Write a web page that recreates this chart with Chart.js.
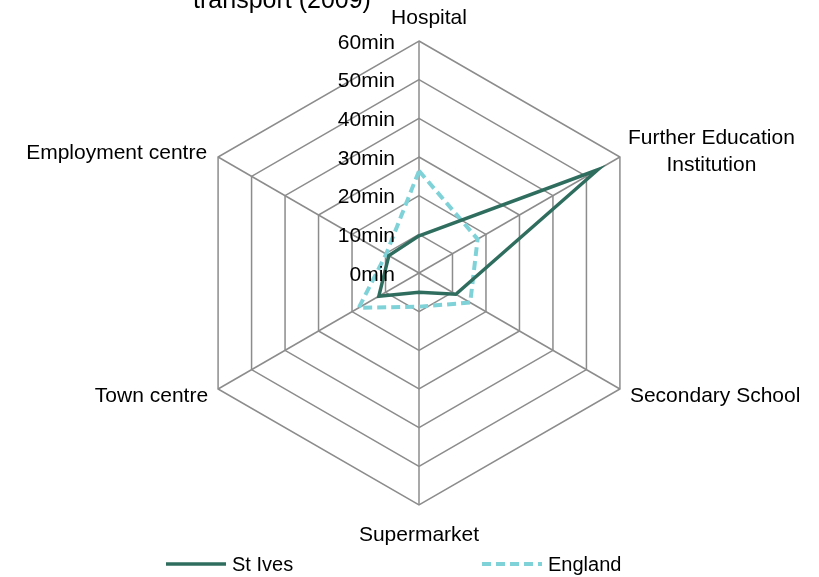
<!DOCTYPE html>
<html>
<head>
<meta charset="utf-8">
<script src="https://cdn.jsdelivr.net/npm/chart.js@4"></script>
<style>
html,body{margin:0;padding:0;background:#fff;}
canvas{display:block;}
</style>
</head>
<body>
<canvas id="c" width="819" height="577"></canvas>
<script>
const categories = ['Hospital', ['Further Education', 'Institution'], 'Secondary School', 'Supermarket', 'Town centre', 'Employment centre'];
const stIves = [9.6, 53.4, 11, 5, 12, 9];
const england = [26.4, 17.5, 15.3, 8.7, 18, 9.8];
const tickValues = [0, 10, 20, 30, 40, 50, 60];
const tickLabels = ['0min', '10min', '20min', '30min', '40min', '50min', '60min'];
const seriesNames = ['St Ives', 'England'];
const titleText = 'transport (2009)';

const FONT = "'Liberation Sans', Arial, sans-serif";
const GREEN = '#2f6e5f';
const CYAN = '#7fd3d8';
const GRID = '#8c8c8c';

const overlay = {
  id: 'overlay',
  afterDraw(chart) {
    const ctx = chart.ctx;
    const s = chart.scales.r;
    ctx.save();
    ctx.fillStyle = '#000';
    // title
    ctx.font = '25px ' + FONT;
    ctx.textAlign = 'center';
    ctx.textBaseline = 'alphabetic';
    ctx.fillText(titleText, 282, 8);
    // tick labels
    ctx.font = '21px ' + FONT;
    ctx.textAlign = 'right';
    ctx.textBaseline = 'middle';
    tickValues.forEach((v, i) => {
      const d = s.getDistanceFromCenterForValue(v);
      ctx.fillText(tickLabels[i], s.xCenter - 24, s.yCenter - d + 2);
    });
    // point labels
    const R = s.drawingArea;
    categories.forEach((lab, i) => {
      const p = s.getPointPosition(i, R);
      const lines = Array.isArray(lab) ? lab : [lab];
      ctx.textBaseline = 'middle';
      if (i === 0) {
        ctx.textAlign = 'center';
        ctx.fillText(lines[0], p.x + 10, p.y - 23);
      } else if (i === 1) {
        const w = Math.max(...lines.map(l => ctx.measureText(l).width));
        const cx = p.x + 8 + w / 2;
        ctx.textAlign = 'center';
        lines.forEach((l, k) => ctx.fillText(l, cx, p.y - 19 + k * 27));
      } else if (i === 2) {
        ctx.textAlign = 'left';
        ctx.fillText(lines[0], p.x + 10, p.y + 7);
      } else if (i === 3) {
        ctx.textAlign = 'center';
        ctx.fillText(lines[0], p.x, p.y + 30);
      } else if (i === 4) {
        ctx.textAlign = 'right';
        ctx.fillText(lines[0], p.x - 10, p.y + 7);
      } else {
        ctx.textAlign = 'right';
        ctx.fillText(lines[0], p.x - 11, p.y - 4);
      }
    });
    // legend
    const ly = 564;
    const items = [
      {x: 166, color: GREEN, dash: [], w: 3.5},
      {x: 482, color: CYAN, dash: [9, 5], w: 4}
    ];
    items.forEach((it, k) => {
      ctx.beginPath();
      ctx.setLineDash(it.dash);
      ctx.strokeStyle = it.color;
      ctx.lineWidth = it.w;
      ctx.moveTo(it.x, ly);
      ctx.lineTo(it.x + 60, ly);
      ctx.stroke();
      ctx.setLineDash([]);
      ctx.font = '20px ' + FONT;
      ctx.textAlign = 'left';
      ctx.textBaseline = 'middle';
      ctx.fillStyle = '#000';
      ctx.fillText(chart.data.datasets[k].label, it.x + 66, ly + 1);
    });
    ctx.restore();
  }
};

new Chart(document.getElementById('c'), {
  type: 'radar',
  data: {
    labels: categories,
    datasets: [
      {
        label: seriesNames[0],
        data: stIves,
        borderColor: GREEN,
        borderWidth: 3.5,
        fill: false,
        pointRadius: 0,
        pointHoverRadius: 0,
        tension: 0
      },
      {
        label: seriesNames[1],
        data: england,
        borderColor: CYAN,
        borderWidth: 4,
        borderDash: [9, 5],
        fill: false,
        pointRadius: 0,
        pointHoverRadius: 0,
        tension: 0
      }
    ]
  },
  options: {
    responsive: false,
    animation: false,
    layout: { padding: { left: 187, right: 168, top: 41, bottom: 72 } },
    plugins: {
      legend: { display: false },
      title: { display: false },
      tooltip: { enabled: false }
    },
    scales: {
      r: {
        min: 0,
        max: 60,
        ticks: { stepSize: 10, display: false },
        pointLabels: { display: false },
        grid: { color: GRID, lineWidth: 1.5 },
        angleLines: { color: GRID, lineWidth: 1.5 }
      }
    }
  },
  plugins: [overlay]
});
</script>
</body>
</html>
